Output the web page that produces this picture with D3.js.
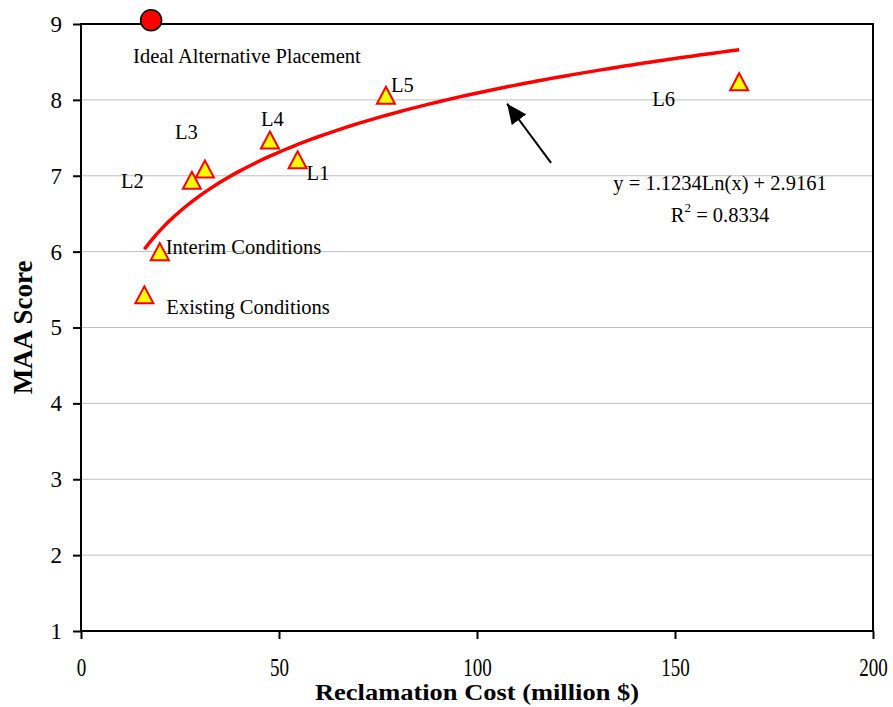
<!DOCTYPE html>
<html>
<head>
<meta charset="utf-8">
<script src="https://cdn.jsdelivr.net/npm/d3@7"></script>
<style>
	body { margin: 0; background: #fff; }
	text { font-family: "Liberation Serif", "Times New Roman", serif; fill: #000; }
</style>
</head>
<body>
<svg id="chart" width="893" height="707"></svg>
<script>

// data
var names = ["Existing Conditions", "Interim Conditions", "L1", "L2", "L3", "L4", "L5", "L6"]
var cost  = [16.0, 19.9, 54.7, 28.0, 31.3, 47.7, 77.0, 166.2]
var score = [5.43, 6.00, 7.21, 6.94, 7.09, 7.47, 8.06, 8.24]

var idealName  = "Ideal Alternative Placement"
var idealCost  = 17.7
var idealScore = 9.05

var xTicks = [0, 50, 100, 150, 200]
var yTicks = [1, 2, 3, 4, 5, 6, 7, 8, 9]

// log trendline as printed on the chart
var fitA = 1.1234, fitB = 2.9161, fitR2 = 0.8334

// label offsets in px from each marker
var labelOffset = {
	"Existing Conditions": [22, 19],
	"Interim Conditions":  [6, 2],
	"L1": [9, 20],
	"L2": [-71, 8],
	"L3": [-30, -30],
	"L4": [-9, -14],
	"L5": [5, -3],
	"L6": [-87, 24]
}

var svg = d3.select("#chart"),
	margin = {top: 24, left: 81, bottom: 76, right: 20},
	width = +svg.attr("width"),
	height = +svg.attr("height");

var x = d3.scaleLinear()
	.domain([0, 200])
	.range([margin.left, width - margin.right])

var y = d3.scaleLinear()
	.domain([1, 9])
	.range([height - margin.bottom, margin.top])

svg.append("defs").append("marker")
	.attr("id", "head")
	.attr("viewBox", "0 0 20 18")
	.attr("refX", 20).attr("refY", 9)
	.attr("markerWidth", 20).attr("markerHeight", 18)
	.attr("markerUnits", "userSpaceOnUse")
	.attr("orient", "auto")
	.append("path")
	.attr("d", "M0,0L20,9L0,18Z")
	.attr("fill", "#000")

// gridlines
svg.append("g")
	.selectAll("line")
	.data(yTicks.slice(1, -1))
	.enter().append("line")
	.attr("x1", x(0)).attr("x2", x(200))
	.attr("y1", d => y(d)).attr("y2", d => y(d))
	.attr("stroke", "#c0c0c0")
	.attr("stroke-width", 1)

// frame
svg.append("rect")
	.attr("x", x(0)).attr("y", y(9))
	.attr("width", x(200) - x(0))
	.attr("height", y(1) - y(9))
	.attr("fill", "none")
	.attr("stroke", "#000")
	.attr("stroke-width", 2)

var xAxis = svg.append("g")
	.attr("transform", `translate(0,${y(1)})`)
	.call(d3.axisBottom(x).tickValues(xTicks).tickSize(8).tickSizeOuter(0))

var yAxis = svg.append("g")
	.attr("transform", `translate(${x(0)},0)`)
	.call(d3.axisLeft(y).tickValues(yTicks).tickSize(8).tickPadding(11).tickSizeOuter(0))

svg.selectAll(".domain").remove()
xAxis.attr("font-family", null).attr("font-size", null)
yAxis.attr("font-family", null).attr("font-size", null)
svg.selectAll(".tick line").attr("stroke", "#000").attr("stroke-width", 2)

yAxis.selectAll(".tick text").style("font-size", "23px")

// x tick labels are drawn tall and narrow in the original
xAxis.selectAll(".tick text")
	.style("font-size", "19px")
	.attr("y", 0).attr("dy", 0)
	.attr("transform", "translate(0,45) scale(1,1.28)")

// axis titles
svg.append("text")
	.attr("x", (x(0) + x(200)) / 2)
	.attr("y", 700)
	.attr("text-anchor", "middle")
	.attr("textLength", 324)
	.attr("lengthAdjust", "spacingAndGlyphs")
	.style("font-size", "24px")
	.style("font-weight", "bold")
	.text("Reclamation Cost (million $)")

svg.append("text")
	.attr("transform", `translate(32,${(y(1) + y(9)) / 2}) rotate(-90)`)
	.attr("text-anchor", "middle")
	.style("font-size", "27px")
	.style("font-weight", "bold")
	.text("MAA Score")

// trendline over the range of the alternatives
var xMin = d3.min(cost), xMax = d3.max(cost)
var fit = d3.range(0, 101).map(i => {
	var c = xMin + (xMax - xMin) * i / 100
	return [c, fitA * Math.log(c) + fitB]
})

svg.append("path")
	.datum(fit)
	.attr("fill", "none")
	.attr("stroke", "#ff0000")
	.attr("stroke-width", 3.5)
	.attr("d", d3.line().x(d => x(d[0])).y(d => y(d[1])))

// markers
var tri = {
	draw: function(ctx, size) {
		var w = 9, h = 8.5
		ctx.moveTo(0, -h)
		ctx.lineTo(w, h)
		ctx.lineTo(-w, h)
		ctx.closePath()
	}
}

var pts = names.map((n, i) => ({name: n, cost: cost[i], score: score[i]}))

svg.append("g")
	.selectAll("path")
	.data(pts)
	.enter().append("path")
	.attr("transform", d => `translate(${x(d.cost)},${y(d.score)})`)
	.attr("d", d3.symbol(tri))
	.attr("fill", "#ffff00")
	.attr("stroke", "#ff0000")
	.attr("stroke-width", 2)

svg.append("g")
	.selectAll("text")
	.data(pts)
	.enter().append("text")
	.attr("x", d => x(d.cost) + labelOffset[d.name][0])
	.attr("y", d => y(d.score) + labelOffset[d.name][1])
	.style("font-size", "20.5px")
	.text(d => d.name)

svg.append("circle")
	.attr("cx", x(idealCost))
	.attr("cy", y(idealScore))
	.attr("r", 10.5)
	.attr("fill", "#ff0000")
	.attr("stroke", "#000")
	.attr("stroke-width", 1.5)

svg.append("text")
	.attr("x", x(idealCost) - 18)
	.attr("y", y(idealScore) + 43)
	.style("font-size", "20.5px")
	.text(idealName)

// arrow pointing at the fitted curve
svg.append("line")
	.attr("x1", x(118.7)).attr("y1", y(7.17))
	.attr("x2", x(107.6)).attr("y2", y(7.95))
	.attr("stroke", "#000")
	.attr("stroke-width", 2)
	.attr("marker-end", "url(#head)")

// equation
var eq = svg.append("g").style("font-size", "20.5px").attr("text-anchor", "middle")

eq.append("text")
	.attr("x", 720).attr("y", 190)
	.text(`y = ${fitA}Ln(x) + ${fitB}`)

var r2 = eq.append("text")
	.attr("x", 720).attr("y", 222)
r2.append("tspan").text("R")
r2.append("tspan").attr("dy", -10).style("font-size", "13px").text("2")
r2.append("tspan").attr("dy", 10).text(" = " + fitR2)

</script>
</body>
</html>
